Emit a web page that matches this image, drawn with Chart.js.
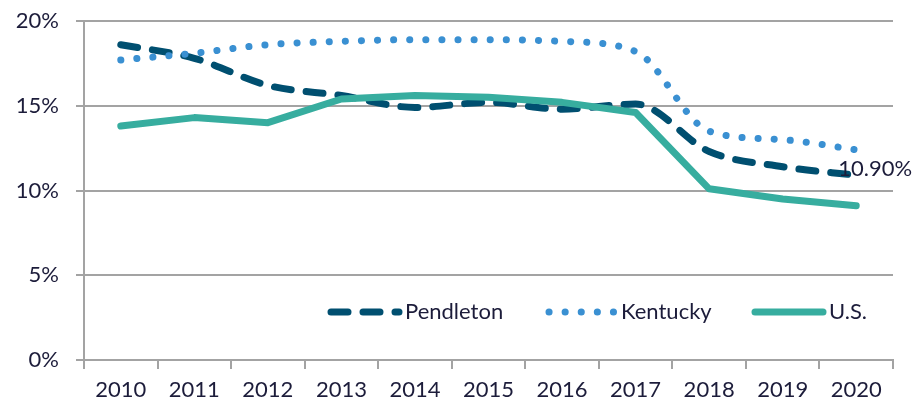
<!DOCTYPE html>
<html>
<head>
<meta charset="utf-8">
<script src="https://cdn.jsdelivr.net/npm/chart.js@4"></script>
<style>
    html, body { margin: 0; padding: 0; background: #fff; }
    #wrap { width: 919px; height: 406px; }
</style>
</head>
<body>
<div id="wrap"><canvas id="rateChart" width="919" height="406"></canvas></div>
<script>
const years = ["2010", "2011", "2012", "2013", "2014", "2015", "2016", "2017", "2018", "2019", "2020"];
const pendleton = [18.6, 17.8, 16.2, 15.6, 14.9, 15.2, 14.8, 15.1, 12.3, 11.4, 10.9];
const kentucky = [17.7, 18.1, 18.6, 18.8, 18.9, 18.9, 18.8, 18.2, 13.5, 13.0, 12.4];
const us = [13.8, 14.3, 14.0, 15.4, 15.6, 15.5, 15.2, 14.6, 10.1, 9.5, 9.1];
const yTicks = [0, 5, 10, 15, 20];
const endLabel = "10.90%";

const textColor = "#1c1c3a";
const gridColor = "#a3a3a3";
const fontFamily = "Lato, 'Open Sans', sans-serif";

// legend drawn inside the plot, like the original
const insideLegend = {
    id: "insideLegend",
    afterDatasetsDraw(chart) {
        const ctx = chart.ctx;
        const y = 312;
        const items = [
            { ds: 0, x: 331, w: 68 },
            { ds: 1, x: 549, w: 66 },
            { ds: 2, x: 755, w: 68 }
        ];
        ctx.save();
        items.forEach(item => {
            const ds = chart.data.datasets[item.ds];
            ctx.beginPath();
            ctx.strokeStyle = ds.borderColor;
            ctx.lineWidth = ds.borderWidth;
            ctx.lineCap = ds.borderCapStyle || "butt";
            ctx.setLineDash(ds.borderDash || []);
            ctx.moveTo(item.x, y);
            ctx.lineTo(item.x + item.w, y);
            ctx.stroke();
            ctx.setLineDash([]);
            ctx.fillStyle = textColor;
            ctx.font = "22px " + fontFamily;
            ctx.textAlign = "left";
            ctx.textBaseline = "middle";
            ctx.fillText(ds.label, item.x + item.w + 6, y);
        });
        // value label at last Pendleton point
        const meta = chart.getDatasetMeta(0);
        const last = meta.data[meta.data.length - 1];
        ctx.fillStyle = textColor;
        ctx.font = "22px " + fontFamily;
        ctx.textAlign = "left";
        ctx.textBaseline = "middle";
        ctx.fillText(endLabel, last.x - 18, last.y - 6);
        ctx.restore();
    }
};

const ctx = document.getElementById("rateChart").getContext("2d");
new Chart(ctx, {
    type: "line",
    data: {
        labels: years,
        datasets: [
            {
                label: "Pendleton",
                data: pendleton,
                borderColor: "#004f70",
                borderWidth: 7,
                borderDash: [17, 15],
                borderCapStyle: "round",
                cubicInterpolationMode: "monotone",
                pointRadius: 0,
                fill: false,
                order: 3
            },
            {
                label: "Kentucky",
                data: kentucky,
                borderColor: "#3a90d2",
                borderWidth: 7,
                borderDash: [0.1, 16],
                borderCapStyle: "round",
                cubicInterpolationMode: "monotone",
                pointRadius: 0,
                fill: false,
                order: 2
            },
            {
                label: "U.S.",
                data: us,
                borderColor: "#37ad9f",
                borderWidth: 7,
                borderCapStyle: "round",
                borderJoinStyle: "round",
                tension: 0,
                pointRadius: 0,
                fill: false,
                order: 1
            }
        ]
    },
    options: {
        responsive: false,
        animation: false,
        layout: { padding: { top: 21, right: 26, left: 0, bottom: 0 } },
        plugins: {
            legend: { display: false },
            tooltip: { enabled: false }
        },
        scales: {
            x: {
                offset: true,
                grid: {
                    offset: true,
                    drawOnChartArea: false,
                    drawTicks: true,
                    tickLength: 9,
                    color: gridColor,
                    lineWidth: 2
                },
                border: { display: true, color: gridColor, width: 2 },
                ticks: {
                    color: textColor,
                    font: { family: fontFamily, size: 22 },
                    padding: 8,
                    maxRotation: 0
                },
                afterFit(scale) { scale.height = 46; }
            },
            y: {
                min: 0,
                max: 20,
                afterBuildTicks(scale) { scale.ticks = yTicks.map(v => ({ value: v })); },
                grid: {
                    color: gridColor,
                    lineWidth: 2,
                    tickLength: 8
                },
                border: { display: true, color: gridColor, width: 2 },
                ticks: {
                    color: textColor,
                    font: { family: fontFamily, size: 22 },
                    padding: 17,
                    callback: v => v + "%"
                },
                afterFit(scale) {
                    scale.width = 84;
                    // tick padding would otherwise push the plot top down
                    scale.paddingTop = 12;
                    scale.paddingBottom = 0;
                }
            }
        }
    },
    plugins: [insideLegend]
});
</script>
</body>
</html>
